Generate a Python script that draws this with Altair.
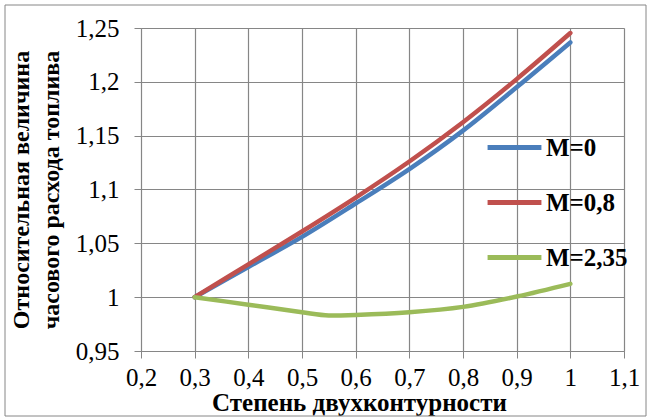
import altair as alt
import pandas as pd

# data
x_main = [0.3, 0.4, 0.5, 0.6, 0.7, 0.8, 0.9, 1.0]
y_m0 = [1.0, 1.028, 1.056, 1.087, 1.119, 1.1547, 1.195, 1.2366]
y_m08 = [1.0, 1.0305, 1.061, 1.0925, 1.126, 1.1625, 1.2025, 1.2453]
x_green = [0.3, 0.4, 0.5, 0.55, 0.6, 0.7, 0.8, 0.9, 1.0]
y_m235 = [1.0, 0.993, 0.986, 0.983, 0.9835, 0.986, 0.991, 1.0006, 1.0124]

series_names = ["M=0", "M=0,8", "M=2,35"]
series_colors = ["#4A7EBB", "#C0504D", "#9BBB59"]

x_ticks = [0.2, 0.3, 0.4, 0.5, 0.6, 0.7, 0.8, 0.9, 1.0, 1.1]
y_ticks = [0.95, 1.0, 1.05, 1.1, 1.15, 1.2, 1.25]

rows = []
for i, (xs, ys) in enumerate([(x_main, y_m0), (x_main, y_m08), (x_green, y_m235)]):
    for j, (a, b) in enumerate(zip(xs, ys)):
        rows.append({"x": a, "y": b, "series": series_names[i], "order": i})
df = pd.DataFrame(rows)

FONT = "'Liberation Serif', 'Times New Roman', 'DejaVu Serif', serif"
label_expr = "replace(format(datum.value, '.2~f'), '.', ',')"

x_enc = alt.X(
    "x:Q",
    scale=alt.Scale(domain=[0.2, 1.1], nice=False, zero=False),
    axis=alt.Axis(
        values=x_ticks, labelExpr=label_expr, title="Степень двухконтурности",
        titleFont=FONT, titleFontSize=25, titleFontWeight="bold", titleColor="black",
        titlePadding=0, titleX=218,
        labelFont=FONT, labelFontSize=25, labelColor="black", labelPadding=7,
        tickSize=7, tickColor="#868686", domainColor="#868686",
        gridColor="#868686", gridWidth=1.2, labelFlush=False,
    ),
)
y_enc = alt.Y(
    "y:Q",
    scale=alt.Scale(domain=[0.95, 1.25], nice=False, zero=False),
    axis=alt.Axis(
        values=y_ticks, labelExpr=label_expr,
        title=["Относительная величина", "часового расхода топлива"],
        titleFont=FONT, titleFontSize=24, titleFontWeight="bold", titleColor="black",
        titlePadding=12, titleLineHeight=30,
        labelFont=FONT, labelFontSize=25, labelColor="black", labelPadding=15,
        tickSize=7, tickColor="#868686", domainColor="#868686",
        gridColor="#868686", gridWidth=1.2, labelFlush=False,
    ),
)

lines = alt.Chart(df).mark_line(strokeWidth=4.5, interpolate="catmull-rom", strokeCap="round").encode(
    x=x_enc,
    y=y_enc,
    color=alt.Color(
        "series:N",
        scale=alt.Scale(domain=series_names, range=series_colors),
        legend=alt.Legend(
            title=None, orient="none", legendX=344, legendY=90,
            symbolType="stroke", symbolSize=2900, symbolStrokeWidth=5,
            labelFont=FONT, labelFontSize=25, labelFontWeight="bold", labelColor="black",
            rowPadding=12, labelOffset=2,
        ),
    ),
    order="order:Q",
)

border = alt.Chart(pd.DataFrame({"a": [0]})).mark_rect(
    fill=None, stroke="#868686", strokeWidth=1
).encode(
    x=alt.value(-136), x2=alt.value(505), y=alt.value(-23), y2=alt.value(388)
)

chart = alt.layer(lines, border).properties(
    width=483, height=323,
    padding={"left": 141, "top": 28, "right": 26, "bottom": 69},
    autosize=alt.AutoSizeParams(type="none"),
).configure_view(stroke=None).configure(background="white")

chart.save("out.html", embed_options={"renderer": "svg", "actions": False})
